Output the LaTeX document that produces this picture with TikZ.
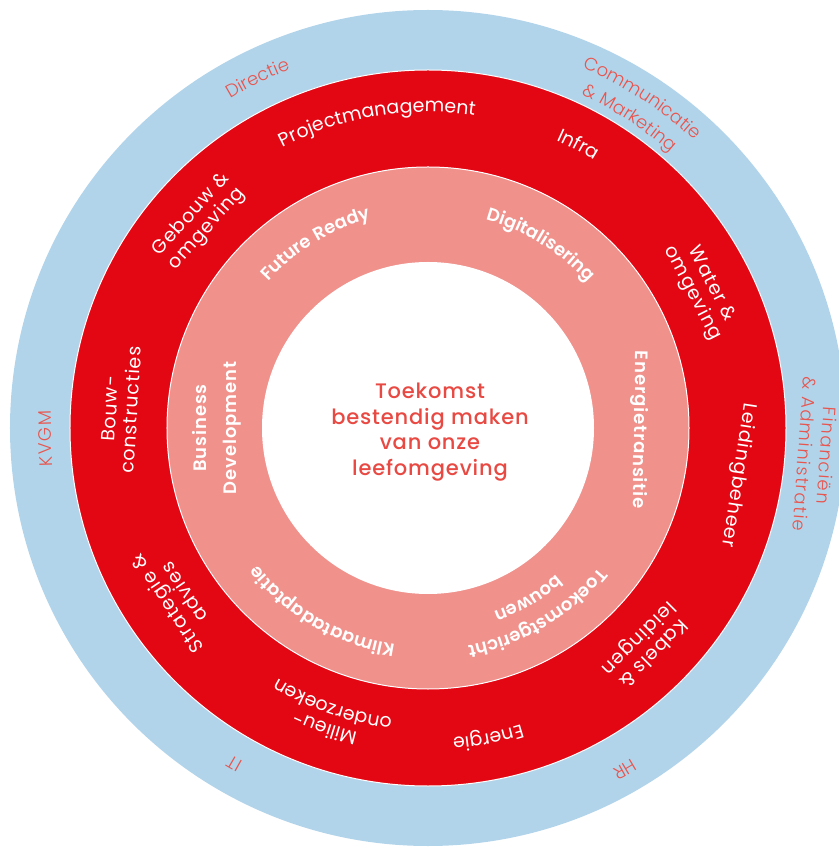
\documentclass[tikz,border=0pt]{standalone}
\usepackage{fontspec}
\usetikzlibrary{decorations.text}

\setmainfont{Poppins}
\newfontfamily\ringlight[LetterSpace=8]{Poppins Light}
\newfontfamily\ringregular[LetterSpace=5]{Poppins}
\newfontfamily\ringbold[LetterSpace=5]{Poppins SemiBold}
\newfontfamily\coremedium[LetterSpace=4]{Poppins Medium}

\definecolor{ringblue}{HTML}{B2D4EA}
\definecolor{ringred}{HTML}{E30613}
\definecolor{ringpink}{HTML}{F0918C}
\definecolor{labelred}{HTML}{E8554E}
\definecolor{corered}{HTML}{E84A43}

% fonts for the three rings
\newcommand{\bluefmt}{\color{labelred}\ringlight\fontsize{18}{22}\selectfont}
\newcommand{\redfmt}{\color{white}\ringregular\fontsize{19}{22}\selectfont}
\newcommand{\pinkfmt}{\color{white}\ringbold\fontsize{18}{28}\selectfont}

% text bent along a clockwise arc: format, baseline radius, mid angle, text
\newcommand{\arctext}[4]{%
  \path[decorate, decoration={text along path, text align=center, text={|#1|#4}}]
    (#3+50:#2) arc[start angle=#3+50, end angle=#3-50, radius=#2];}

\tikzset{
  bluetext/.style={font=\ringlight\fontsize{18}{22}\selectfont, text=labelred, align=center, inner sep=0pt},
  redtext/.style={font=\ringregular\fontsize{19}{21}\selectfont, text=white, align=center, inner sep=0pt},
  pinktext/.style={font=\ringbold\fontsize{18}{30}\selectfont, text=white, align=center, inner sep=0pt},
}

\begin{document}
\begin{tikzpicture}
        \useasboundingbox (-428pt,-420pt) rectangle (410pt,428pt);
        % Rings
        \fill[ringblue] (0,0) circle[radius=418pt];
        \fill[ringred, draw=white, line width=1pt] (0,0) circle[radius=358pt];
        \fill[ringpink, draw=white, line width=1pt] (0,0) circle[radius=261pt];
        \fill[white] (0,0) circle[radius=166pt];
        % Centre
        \node[font=\coremedium\fontsize{21}{25.5}\selectfont, text=corered, align=center] (core) at (2pt,-4pt) {Toekomst\\bestendig maken\\van onze\\leefomgeving};
        % Outer ring (blue)
        \arctext{\bluefmt}{384pt}{116}{Directie}
        \arctext{\bluefmt}{392pt}{57}{Communicatie}
        \arctext{\bluefmt}{367pt}{57}{{\&} Marketing}
        \node[bluetext, rotate=-94] (finance) at (-4:389pt) {Financiën\\\& Administratie};
        \arctext{\bluefmt}{388pt}{-60}{HR}
        \arctext{\bluefmt}{381pt}{-120}{IT}
        \node[bluetext, rotate=91.6] (kvgm) at (181.6:383pt) {KVGM};
        % Middle ring (red)
        \arctext{\redfmt}{316pt}{99.4}{Projectmanagement}
        \arctext{\redfmt}{315pt}{62}{Infra}
        \node[redtext, rotate=-63] (water) at (27:307pt) {Water \&\\omgeving};
        \node[redtext, rotate=-98.6] (leiding) at (-8.6:314pt) {Leidingbeheer};
        \node[redtext, rotate=-135] (kabels) at (-45:307pt) {Kabels \&\\leidingen};
        \arctext{\redfmt}{311pt}{-79}{Energie}
        \arctext{\redfmt}{312pt}{-109}{Milieu-}
        \arctext{\redfmt}{292pt}{-109}{onderzoeken}
        \node[redtext, rotate=124] (strategie) at (214:305pt) {Strategie \&\\advies};
        \node[redtext, rotate=86.5] (bouw) at (176.5:308pt) {Bouw-\\constructies};
        \node[redtext, rotate=48] (gebouw) at (138:308pt) {Gebouw \&\\omgeving};
        % Inner ring (pink)
        \arctext{\pinkfmt}{217pt}{121.4}{Future Ready}
        \arctext{\pinkfmt}{216pt}{58.4}{Digitalisering}
        \node[pinktext, rotate=-91] (transitie) at (-0.5:211pt) {Energietransitie};
        \arctext{\pinkfmt}{221pt}{-59.5}{Toekomstgericht}
        \arctext{\pinkfmt}{195pt}{-59.5}{bouwen}
        \arctext{\pinkfmt}{219pt}{-120}{Klimaatadaptatie}
        \node[pinktext, rotate=90] (business) at (180:211pt) {Business\\Development};
\end{tikzpicture}
\end{document}
